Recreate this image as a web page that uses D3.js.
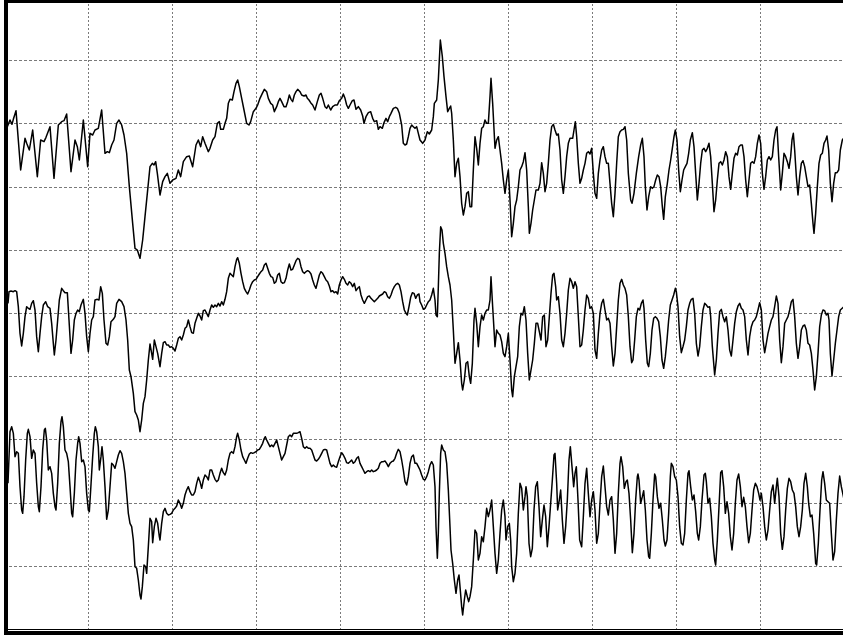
<!DOCTYPE html>
<html>
<head>
<meta charset="utf-8">
<script src="https://cdn.jsdelivr.net/npm/d3@7"></script>
<style>
  html, body { margin: 0; padding: 0; background: #fff; }
  svg { display: block; }
</style>
</head>
<body>
<svg id="chart" width="843" height="635"></svg>
<script>
// Three-channel recording, 10 s window, 252 samples per second.
// Each trace is stored as [sample index, amplitude] pairs (amplitude in µV,
// relative to the channel's own baseline).
const sampleRate = 252;
const seconds = 10;
const channelOffsets = [474, 0, -474];   // baseline of each channel, µV
const amplitudeRange = [-948, 948];        // full vertical span, µV

const ch1 = [[10,85],[18,105],[24,92],[28,107],[36,133],[50,-45],[63,50],[68,35],[76,15],[86,75],[100,-65],[110,45],[120,40],[126,53],[138,85],[150,-70],[163,90],[173,100],[180,103],[188,123],[201,-50],[213,45],[220,25],[226,-15],[238,105],[251,-35],[258,65],[266,60],[273,75],[283,80],[293,135],[303,5],[310,10],[316,7],[323,30],[330,45],[338,95],[345,105],[353,90],[360,60],[368,5],[376,-95],[386,-205],[393,-280],[400,-285],[408,-310],[416,-255],[423,-185],[430,-115],[438,-35],[445,-25],[450,-30],[455,-20],[460,-55],[468,-120],[476,-80],[483,-65],[490,-55],[498,-85],[506,-75],[516,-70],[523,-45],[530,-65],[538,-20],[548,-5],[556,-3],[566,-35],[576,30],[583,45],[590,25],[596,55],[603,35],[613,10],[618,20],[626,45],[633,55],[640,95],[646,100],[650,77],[658,77],[663,95],[668,110],[673,155],[678,167],[685,165],[690,190],[696,215],[701,225],[706,205],[713,170],[720,135],[728,95],[735,90],[740,100],[748,130],[756,140],[761,150],[768,170],[775,185],[781,197],[788,190],[793,170],[800,155],[806,150],[811,130],[818,145],[823,160],[828,170],[833,160],[840,145],[846,145],[851,160],[856,180],[861,167],[866,160],[871,180],[876,190],[881,197],[888,190],[893,180],[900,177],[906,180],[910,170],[915,165],[920,157],[926,150],[933,135],[940,160],[946,180],[951,185],[956,170],[963,145],[968,140],[973,150],[980,135],[986,145],[993,150],[1000,150],[1006,163],[1013,170],[1018,183],[1023,170],[1028,150],[1033,140],[1038,150],[1045,163],[1050,165],[1056,137],[1063,145],[1070,135],[1076,117],[1080,95],[1086,115],[1093,127],[1100,130],[1106,110],[1111,100],[1118,103],[1123,77],[1128,85],[1135,80],[1140,97],[1146,110],[1151,100],[1156,115],[1161,125],[1168,140],[1175,143],[1180,140],[1186,125],[1193,90],[1198,35],[1203,30],[1208,33],[1213,55],[1218,80],[1223,90],[1228,85],[1233,80],[1238,85],[1243,65],[1248,45],[1256,35],[1263,45],[1270,70],[1276,63],[1283,75],[1288,115],[1291,155],[1298,165],[1303,225],[1309,345],[1315,295],[1320,235],[1326,175],[1331,130],[1336,140],[1340,147],[1343,125],[1348,45],[1353,-65],[1358,-25],[1363,-10],[1368,-65],[1373,-145],[1378,-180],[1383,-155],[1388,-115],[1393,-110],[1398,-155],[1403,-155],[1408,-45],[1413,55],[1418,20],[1423,-30],[1428,35],[1433,80],[1438,85],[1443,105],[1448,95],[1453,95],[1458,175],[1461,230],[1466,155],[1473,20],[1478,45],[1483,55],[1488,15],[1493,-25],[1498,-75],[1503,-115],[1508,-75],[1513,-45],[1518,-135],[1523,-245],[1528,-205],[1533,-155],[1538,-135],[1543,-95],[1548,-45],[1553,-35],[1558,-20],[1563,7],[1568,-45],[1573,-155],[1576,-235],[1581,-205],[1586,-165],[1591,-135],[1596,-105],[1603,-105],[1608,-85],[1613,-23],[1618,-55],[1623,-110],[1628,-85],[1633,-25],[1638,45],[1643,85],[1648,92],[1653,75],[1658,60],[1663,63],[1668,15],[1673,-75],[1678,-115],[1683,-65],[1688,-5],[1693,35],[1698,50],[1706,50],[1710,75],[1714,100],[1718,55],[1723,-25],[1728,-85],[1733,-70],[1738,-45],[1743,-25],[1748,5],[1753,10],[1758,3],[1763,20],[1768,-55],[1773,-115],[1778,-130],[1783,-55],[1788,-15],[1793,15],[1798,25],[1803,-5],[1808,-25],[1813,-25],[1818,-85],[1823,-145],[1828,-185],[1833,-115],[1838,-25],[1843,55],[1848,70],[1853,75],[1858,77],[1863,85],[1868,45],[1873,-55],[1880,-135],[1884,-145],[1890,-115],[1897,-55],[1904,-5],[1910,30],[1915,50],[1920,-5],[1924,-95],[1929,-165],[1934,-125],[1940,-95],[1945,-100],[1950,-95],[1955,-75],[1960,-60],[1965,-65],[1970,-95],[1975,-155],[1979,-193],[1984,-125],[1990,-85],[1995,-45],[2000,-15],[2005,20],[2010,55],[2014,75],[2019,45],[2024,-45],[2029,-110],[2034,-75],[2039,-45],[2044,-35],[2049,-25],[2054,5],[2059,45],[2065,67],[2070,25],[2075,-55],[2080,-135],[2085,-85],[2090,-25],[2095,15],[2100,20],[2105,10],[2110,20],[2115,35],[2120,-5],[2125,-85],[2130,-170],[2135,-135],[2140,-75],[2145,-25],[2150,-20],[2155,-30],[2160,-15],[2165,10],[2170,-5],[2175,-65],[2180,-103],[2185,-55],[2190,-10],[2195,5],[2200,0],[2205,25],[2210,30],[2215,30],[2220,-5],[2225,-75],[2230,-125],[2235,-75],[2240,-25],[2245,-20],[2250,-25],[2255,-5],[2260,35],[2265,60],[2270,35],[2275,-55],[2280,-103],[2285,-65],[2290,-15],[2295,-5],[2300,-15],[2305,-5],[2310,45],[2315,75],[2319,85],[2324,-5],[2330,-105],[2335,-55],[2340,5],[2345,-5],[2350,-20],[2355,-40],[2360,-5],[2364,45],[2368,65],[2372,15],[2377,-65],[2382,-120],[2387,-65],[2392,-25],[2397,-17],[2402,-35],[2407,-65],[2412,-95],[2417,-90],[2422,-145],[2427,-205],[2430,-235],[2435,-175],[2440,-95],[2445,-25],[2450,0],[2455,5],[2460,35],[2465,45],[2469,57],[2474,15],[2479,-85],[2484,-140],[2489,-85],[2494,-53],[2499,-53],[2504,-45],[2509,15],[2515,45],[2520,52]];

const ch2 = [[12,29],[15,64],[21,66],[28,64],[33,67],[38,64],[43,19],[48,-61],[53,-99],[58,-61],[63,-11],[68,19],[73,14],[78,11],[83,29],[88,37],[93,9],[98,-71],[103,-116],[108,-61],[113,-11],[118,24],[125,34],[131,19],[138,14],[143,-31],[148,-91],[151,-126],[156,-81],[161,-21],[166,39],[173,74],[178,67],[183,61],[190,61],[195,-21],[201,-121],[206,-81],[211,-21],[216,-1],[221,9],[226,4],[231,24],[238,41],[243,-1],[248,-71],[253,-116],[258,-61],[263,-21],[268,-11],[273,39],[280,41],[285,39],[290,79],[295,59],[300,-21],[306,-91],[311,-96],[316,-71],[321,-26],[328,-19],[333,-11],[338,29],[345,41],[353,34],[360,19],[366,-21],[371,-81],[376,-171],[381,-191],[388,-241],[393,-296],[398,-306],[403,-321],[408,-356],[413,-321],[418,-271],[423,-251],[428,-201],[433,-141],[438,-93],[443,-121],[446,-139],[451,-81],[456,-101],[461,-121],[468,-161],[473,-121],[478,-89],[483,-86],[488,-96],[493,-96],[498,-103],[503,-101],[508,-106],[513,-114],[518,-96],[523,-76],[528,-71],[533,-81],[538,-66],[543,-46],[548,-41],[553,-21],[558,-41],[563,-59],[568,-61],[573,-31],[578,-16],[583,-1],[588,-9],[593,-21],[598,7],[603,9],[608,-1],[613,-11],[618,9],[623,24],[628,17],[633,24],[638,19],[643,29],[648,21],[653,34],[658,24],[663,41],[668,64],[673,104],[678,119],[683,114],[688,109],[693,139],[698,161],[701,166],[706,149],[711,119],[716,94],[721,74],[726,64],[731,57],[736,69],[741,84],[746,94],[751,99],[756,101],[761,109],[766,117],[771,124],[776,129],[781,144],[786,149],[791,134],[796,119],[801,109],[806,107],[811,89],[816,94],[821,114],[826,119],[831,94],[836,89],[841,91],[846,104],[851,129],[856,147],[861,129],[866,131],[871,144],[876,157],[881,164],[886,161],[891,139],[896,124],[901,119],[906,124],[911,127],[916,124],[921,117],[926,99],[931,84],[936,74],[941,94],[946,114],[951,124],[956,119],[961,109],[966,99],[971,94],[976,81],[981,64],[986,67],[991,61],[996,64],[1001,57],[1006,84],[1011,99],[1016,109],[1021,101],[1026,89],[1031,84],[1036,94],[1041,89],[1046,79],[1051,89],[1056,67],[1061,74],[1066,79],[1071,54],[1076,39],[1081,29],[1086,39],[1091,49],[1096,51],[1101,44],[1106,39],[1111,34],[1116,39],[1121,44],[1126,51],[1131,54],[1136,57],[1141,64],[1146,61],[1151,49],[1156,44],[1161,54],[1166,69],[1171,79],[1176,86],[1181,89],[1186,84],[1191,64],[1196,34],[1201,9],[1206,-1],[1210,-6],[1215,19],[1220,47],[1225,61],[1230,59],[1235,44],[1240,54],[1245,57],[1248,34],[1253,24],[1258,11],[1263,14],[1268,24],[1273,34],[1278,39],[1283,54],[1288,74],[1293,39],[1296,-6],[1300,-11],[1303,79],[1306,179],[1310,259],[1314,249],[1318,209],[1323,179],[1328,139],[1333,109],[1338,84],[1343,39],[1348,-51],[1353,-151],[1358,-121],[1363,-89],[1368,-141],[1373,-211],[1376,-231],[1381,-201],[1386,-151],[1391,-146],[1396,-191],[1400,-211],[1405,-151],[1410,-21],[1413,14],[1418,-31],[1423,-101],[1428,-41],[1433,-6],[1438,-21],[1443,-1],[1448,9],[1453,9],[1458,39],[1461,109],[1466,19],[1473,-101],[1478,-51],[1483,-61],[1488,-66],[1493,-86],[1498,-121],[1503,-131],[1508,-101],[1513,-61],[1518,-141],[1523,-231],[1526,-251],[1531,-191],[1536,-161],[1541,-131],[1546,-41],[1551,-1],[1556,-6],[1561,19],[1566,-21],[1571,-121],[1576,-201],[1581,-171],[1586,-141],[1591,-91],[1596,-31],[1601,-31],[1606,-56],[1611,-81],[1616,-11],[1621,-6],[1626,-101],[1631,-81],[1636,-11],[1641,59],[1646,114],[1650,119],[1655,79],[1658,39],[1663,49],[1668,-1],[1673,-81],[1678,-101],[1683,-61],[1688,-1],[1693,69],[1698,104],[1703,94],[1708,74],[1713,94],[1718,79],[1723,-11],[1728,-101],[1733,-96],[1738,-51],[1743,9],[1748,54],[1753,44],[1758,14],[1763,19],[1768,-1],[1773,-111],[1778,-136],[1783,-61],[1788,-1],[1793,29],[1798,41],[1803,9],[1808,-21],[1813,-16],[1818,-31],[1823,-101],[1828,-159],[1833,-121],[1838,-41],[1843,39],[1848,89],[1853,101],[1858,84],[1863,74],[1868,54],[1873,-11],[1878,-101],[1883,-149],[1887,-141],[1892,-81],[1897,-11],[1902,14],[1907,9],[1912,29],[1917,39],[1920,14],[1925,-81],[1930,-151],[1934,-161],[1939,-121],[1944,-51],[1949,-16],[1954,-11],[1959,-16],[1964,-26],[1969,-71],[1974,-141],[1979,-166],[1984,-131],[1989,-81],[1994,-21],[1999,24],[2004,39],[2009,54],[2014,74],[2017,64],[2022,19],[2027,-71],[2032,-119],[2037,-101],[2042,-81],[2047,-41],[2052,9],[2057,29],[2062,41],[2067,44],[2072,-1],[2077,-91],[2082,-129],[2087,-101],[2092,-41],[2097,9],[2102,29],[2107,24],[2112,17],[2117,19],[2120,-11],[2125,-101],[2132,-186],[2137,-141],[2142,-61],[2147,4],[2152,11],[2157,-11],[2162,-26],[2167,-11],[2172,-51],[2177,-111],[2182,-129],[2187,-81],[2192,-31],[2197,4],[2202,21],[2207,29],[2212,14],[2217,9],[2222,-11],[2227,-81],[2232,-126],[2237,-71],[2242,-41],[2247,-26],[2252,-21],[2257,-11],[2262,9],[2267,31],[2272,9],[2277,-81],[2282,-119],[2287,-91],[2292,-61],[2297,-41],[2302,-21],[2307,-11],[2312,19],[2317,51],[2322,29],[2327,-81],[2332,-149],[2337,-101],[2342,-31],[2347,-21],[2352,-11],[2357,9],[2362,34],[2367,41],[2372,-11],[2377,-91],[2382,-136],[2387,-101],[2392,-51],[2397,-39],[2402,-36],[2407,-51],[2412,-91],[2417,-96],[2422,-121],[2427,-171],[2432,-231],[2437,-191],[2442,-121],[2447,-41],[2452,-6],[2457,9],[2462,7],[2467,-6],[2472,-1],[2475,-21],[2479,-121],[2484,-189],[2489,-141],[2494,-91],[2499,-51],[2504,-11],[2509,9],[2520,19]];

const ch3 = [[12,-37],[18,118],[23,133],[28,113],[33,43],[38,58],[43,53],[48,-47],[53,-117],[56,-127],[60,-77],[65,33],[70,113],[73,125],[78,103],[83,38],[88,63],[93,53],[98,-37],[103,-107],[106,-122],[111,-47],[116,63],[121,123],[124,128],[128,93],[133,3],[138,13],[143,-7],[148,-67],[153,-107],[156,-117],[161,-37],[166,83],[171,148],[174,163],[178,133],[183,63],[188,53],[193,28],[198,-47],[203,-127],[206,-137],[211,-67],[216,33],[221,83],[224,103],[228,83],[233,28],[238,33],[243,13],[248,-67],[253,-117],[256,-122],[260,-57],[266,43],[271,113],[274,133],[278,118],[283,73],[286,3],[291,43],[294,73],[298,33],[303,-47],[308,-145],[313,-117],[318,-47],[323,23],[328,18],[333,8],[338,28],[343,48],[348,61],[353,53],[358,28],[363,-7],[368,-67],[373,-127],[378,-157],[383,-167],[388,-207],[393,-287],[398,-292],[403,-327],[408,-372],[411,-384],[415,-347],[420,-282],[425,-287],[428,-307],[433,-227],[438,-142],[443,-152],[446,-215],[451,-167],[456,-142],[461,-157],[466,-197],[468,-207],[473,-157],[478,-122],[483,-112],[488,-127],[493,-132],[498,-130],[503,-127],[508,-117],[513,-112],[518,-105],[523,-87],[528,-97],[533,-112],[538,-97],[543,-72],[548,-57],[553,-47],[558,-62],[563,-72],[568,-72],[573,-62],[578,-37],[583,-19],[588,-32],[593,-52],[598,-27],[603,-12],[608,-17],[613,-27],[618,3],[623,3],[628,-12],[633,-25],[638,-32],[643,-27],[648,-7],[653,8],[658,-5],[663,-12],[668,3],[673,33],[678,53],[683,58],[688,53],[693,73],[698,103],[701,113],[706,93],[711,63],[716,43],[721,33],[726,23],[731,38],[736,51],[741,55],[746,53],[751,55],[756,58],[761,63],[766,65],[771,73],[776,83],[781,98],[784,103],[788,93],[793,83],[798,73],[803,78],[808,73],[813,83],[818,93],[823,73],[828,53],[833,33],[838,43],[843,53],[848,78],[853,103],[858,108],[863,103],[868,113],[873,113],[878,113],[883,115],[888,118],[893,98],[898,73],[903,68],[908,73],[913,68],[918,68],[923,63],[928,48],[933,33],[938,30],[943,35],[948,43],[953,53],[958,63],[963,65],[968,63],[973,43],[978,23],[983,13],[988,18],[993,13],[998,11],[1003,28],[1008,43],[1013,55],[1018,48],[1023,38],[1028,25],[1033,23],[1038,28],[1043,33],[1048,23],[1053,28],[1058,38],[1063,43],[1068,23],[1073,13],[1078,3],[1083,-7],[1088,-2],[1093,1],[1098,-2],[1103,3],[1108,-2],[1113,0],[1118,3],[1123,8],[1128,23],[1133,28],[1138,28],[1143,30],[1148,23],[1153,13],[1158,23],[1163,28],[1168,30],[1173,38],[1178,53],[1183,65],[1188,58],[1193,33],[1198,3],[1203,-32],[1208,-42],[1213,-17],[1218,23],[1223,43],[1228,48],[1233,23],[1238,23],[1243,13],[1248,3],[1253,-12],[1258,-25],[1263,-27],[1268,-17],[1273,-2],[1278,18],[1283,28],[1288,18],[1293,-47],[1296,-167],[1300,-262],[1303,-187],[1306,-67],[1310,53],[1313,78],[1318,63],[1323,58],[1328,23],[1333,-57],[1338,-167],[1341,-237],[1346,-277],[1351,-327],[1356,-367],[1361,-327],[1365,-312],[1368,-347],[1373,-407],[1376,-432],[1381,-387],[1385,-357],[1390,-377],[1394,-392],[1398,-377],[1403,-347],[1408,-267],[1413,-177],[1418,-187],[1423,-267],[1428,-247],[1433,-197],[1438,-212],[1443,-167],[1448,-112],[1453,-137],[1458,-117],[1463,-87],[1468,-167],[1473,-247],[1478,-307],[1483,-267],[1488,-187],[1493,-117],[1498,-87],[1503,-137],[1506,-207],[1511,-167],[1516,-157],[1520,-207],[1523,-287],[1528,-332],[1533,-307],[1538,-247],[1543,-127],[1548,-37],[1553,-52],[1558,-117],[1563,-77],[1566,-47],[1570,-77],[1575,-217],[1580,-257],[1585,-232],[1590,-117],[1595,-47],[1600,-32],[1605,-107],[1610,-197],[1616,-137],[1620,-102],[1625,-137],[1630,-227],[1635,-167],[1640,-97],[1645,-27],[1650,48],[1653,53],[1658,-37],[1661,-117],[1666,-87],[1670,-57],[1675,-147],[1680,-217],[1685,-167],[1690,-87],[1695,33],[1699,73],[1704,13],[1709,-47],[1713,-7],[1717,13],[1722,-87],[1727,-207],[1733,-227],[1738,-137],[1743,-37],[1748,8],[1753,-67],[1758,-137],[1763,-87],[1768,-62],[1773,-117],[1778,-217],[1783,-187],[1788,-97],[1793,-17],[1798,15],[1803,-47],[1808,-107],[1813,-132],[1818,-87],[1823,-77],[1828,-147],[1833,-247],[1838,-187],[1843,-67],[1848,23],[1851,43],[1856,13],[1861,-52],[1866,-32],[1870,-27],[1875,-67],[1880,-147],[1885,-245],[1890,-187],[1895,-87],[1900,-17],[1902,-9],[1905,-27],[1910,-97],[1915,-77],[1919,-59],[1924,-117],[1929,-207],[1934,-257],[1937,-262],[1942,-187],[1947,-87],[1952,-9],[1955,-17],[1960,-77],[1965,-112],[1970,-97],[1975,-147],[1980,-207],[1984,-225],[1989,-207],[1994,-127],[1999,-17],[2002,23],[2007,13],[2012,-17],[2017,-27],[2022,-77],[2027,-167],[2032,-217],[2037,-222],[2042,-187],[2047,-87],[2052,-7],[2055,1],[2060,-47],[2065,-87],[2070,-72],[2075,-122],[2080,-187],[2084,-207],[2089,-167],[2094,-87],[2100,-12],[2104,-7],[2107,-32],[2112,-97],[2117,-82],[2122,-137],[2127,-217],[2132,-267],[2135,-282],[2140,-207],[2145,-107],[2150,-5],[2154,1],[2159,-47],[2164,-127],[2169,-92],[2174,-127],[2179,-197],[2184,-237],[2189,-187],[2194,-97],[2199,-27],[2204,-9],[2209,-47],[2214,-107],[2219,-79],[2224,-107],[2229,-167],[2234,-215],[2239,-187],[2244,-117],[2249,-57],[2254,-37],[2259,-47],[2264,-67],[2268,-87],[2272,-67],[2277,-107],[2282,-167],[2287,-207],[2292,-177],[2297,-117],[2302,-62],[2307,-42],[2312,-97],[2317,-47],[2320,-22],[2325,-77],[2330,-187],[2335,-235],[2340,-197],[2345,-117],[2350,-52],[2355,-22],[2360,-32],[2365,-57],[2370,-67],[2375,-107],[2380,-167],[2385,-197],[2390,-167],[2395,-117],[2400,-37],[2405,-7],[2410,-47],[2414,-97],[2419,-137],[2424,-132],[2429,-187],[2435,-277],[2438,-282],[2443,-217],[2448,-117],[2453,-27],[2457,-2],[2462,-37],[2467,-87],[2472,-92],[2477,-97],[2482,-187],[2487,-267],[2492,-242],[2497,-147],[2502,-67],[2507,-15],[2512,-47],[2520,-85]];

const channels = [ch1, ch2, ch3];

// ---- layout ----
const width = 843, height = 635;
const plot = { left: 4, right: 844, top: -3, bottom: 629 };
const divisions = 10;

const svg = d3.select("#chart");

const x = d3.scaleLinear()
  .domain([0, seconds * sampleRate])
  .range([plot.left, plot.right]);

const y = d3.scaleLinear()
  .domain(amplitudeRange)
  .range([plot.bottom, plot.top]);

svg.append("rect")
  .attr("width", width).attr("height", height)
  .attr("fill", "#fff");

// dotted grid: one line per second, ten amplitude divisions
const gridColor = "#7a7a7a";
const xGrid = d3.range(1, seconds).map(s => s * sampleRate);
const ampStep = (amplitudeRange[1] - amplitudeRange[0]) / divisions;
const yGrid = d3.range(1, divisions).map(i => amplitudeRange[0] + i * ampStep);

const grid = svg.append("g").attr("class", "grid");
grid.selectAll("line.v").data(xGrid).join("line")
  .attr("class", "v")
  .attr("x1", d => Math.round(x(d)) + 0.5).attr("x2", d => Math.round(x(d)) + 0.5)
  .attr("y1", 0).attr("y2", plot.bottom)
  .attr("stroke", gridColor).attr("stroke-width", 1)
  .attr("stroke-dasharray", "2,2");
grid.selectAll("line.h").data(yGrid).join("line")
  .attr("class", "h")
  .attr("x1", plot.left).attr("x2", width)
  .attr("y1", d => Math.round(y(d)) + 0.5).attr("y2", d => Math.round(y(d)) + 0.5)
  .attr("stroke", gridColor).attr("stroke-width", 1)
  .attr("stroke-dasharray", "3,2");

// traces
svg.append("defs").append("clipPath").attr("id", "plotClip")
  .append("rect")
  .attr("x", plot.left + 3).attr("y", 3)
  .attr("width", width - plot.left - 3).attr("height", plot.bottom - 3);

const line = d3.line()
  .x(d => x(d[0]))
  .y(d => y(d[1]))
  .curve(d3.curveLinear);

svg.append("g").attr("clip-path", "url(#plotClip)")
  .selectAll("path.trace")
  .data(channels.map((c, i) => c.map(p => [p[0], p[1] + channelOffsets[i]])))
  .join("path")
  .attr("class", "trace")
  .attr("d", line)
  .attr("fill", "none")
  .attr("stroke", "#000")
  .attr("stroke-width", 1.5)
  .attr("stroke-linejoin", "round");

// frame: heavy left and top edges, double rule along the bottom
const frame = svg.append("g").attr("class", "frame");
frame.append("rect").attr("x", plot.left).attr("y", 0)
  .attr("width", 4).attr("height", height).attr("fill", "#000");
frame.append("rect").attr("x", plot.left).attr("y", 0)
  .attr("width", width - plot.left).attr("height", 3).attr("fill", "#000");
frame.append("line")
  .attr("x1", plot.left).attr("x2", width)
  .attr("y1", plot.bottom + 0.5).attr("y2", plot.bottom + 0.5)
  .attr("stroke", "#000").attr("stroke-width", 1);
frame.append("rect").attr("x", plot.left).attr("y", plot.bottom + 2)
  .attr("width", width - plot.left).attr("height", height - plot.bottom - 2)
  .attr("fill", "#000");
</script>
</body>
</html>
